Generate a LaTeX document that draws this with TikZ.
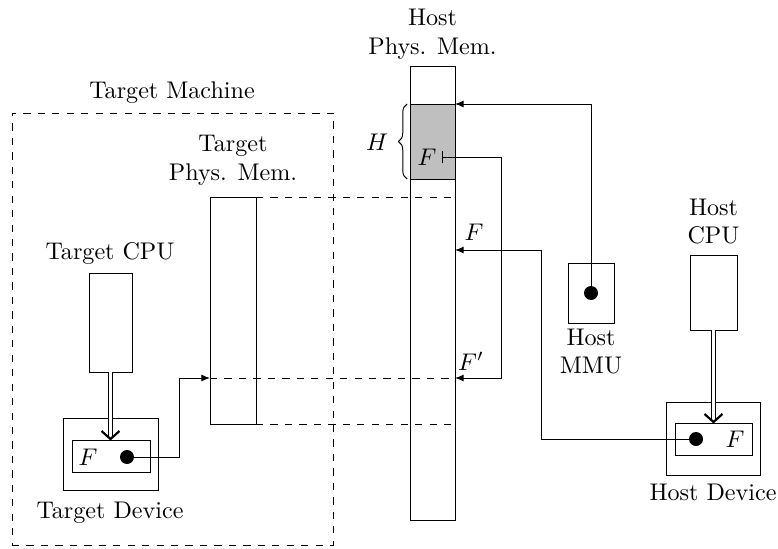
\documentclass[tikz,border=0pt]{standalone}
\usetikzlibrary{arrows.meta,decorations.pathreplacing}
\begin{document}
\begin{tikzpicture}[x=0.415pt,y=-0.415pt,
  box/.style n args={2}{draw, line width=0.4pt, inner sep=0pt, outer sep=0pt,
    minimum width=#1*0.415pt, minimum height=#2*0.415pt},
  dotn/.style={circle, fill=black, inner sep=0pt, outer sep=0pt, minimum size=14*0.415pt},
  lbl/.style={inner sep=0pt, align=center, anchor=south},
  bl/.style={inner sep=0pt, anchor=base},
  dbl/.style={double, double distance=1.4pt, shorten >=1pt},
  chev/.style={line width=0.9pt},
  conn/.style={-{Latex[length=3.6pt,width=2.9pt]}}]
\useasboundingbox (0,0) rectangle (778,549);

% target side
\node[box={321}{432}, dashed] (tm) at (172.5,329) {};
\node[bl] (tmlbl) at (172,98) {Target Machine};
\node[box={46}{227}] (tmem) at (233,310.5) {};
\node[lbl] (tmemlbl) at (233,186) {Target\\Phys.  Mem.};
\node[box={43}{99}] (tcpu) at (110.5,322.5) {};
\node[bl] (tcpulbl) at (110,259) {Target CPU};
\node[box={95}{72}] (tdev) at (110.5,454) {};
\node[box={78}{32}] (tdevin) at (111,456) {};
\node (tF) at (88,457) {$F$};
\node[dotn] (tdot) at (127,457) {};
\node[bl] (tdevlbl) at (110,518) {Target Device};

% host memory
\node[box={45}{75}, fill=gray!50] (hshade) at (432.5,141.5) {};
\node[box={45}{454}] (hmem) at (432.5,293) {};
\node[lbl] (hmemlbl) at (432.5,60) {Host\\Phys.  Mem.};
\node (hF) at (427,157) {$F$};
\node (Hl) at (377,142) {$H$};
\draw[decorate, decoration={brace, amplitude=3.6pt}]
  ([xshift=-1.2pt]hshade.south west) -- ([xshift=-1.2pt]hshade.north west);

% host MMU
\node[box={46}{60}] (hmmu) at (591,293) {};
\node[dotn] (mdot) at (591,293) {};
\node[lbl] (hmmulbl) at (591,375) {Host\\MMU};

% host CPU and device
\node[box={47}{75}] (hcpu) at (713.5,292.5) {};
\node[lbl] (hcpulbl) at (713.5,245) {Host\\CPU};
\node[box={94}{73}] (hdev) at (713,438.5) {};
\node[box={77}{32}] (hdevin) at (713.5,439) {};
\node[dotn] (hdot) at (696,439) {};
\node (hdF) at (735,439) {$F$};
\node[bl] (hdevlbl) at (713,500) {Host Device};

% coordinates
\coordinate (a1) at (179,378);
\coordinate (c1) at (541,250);
\coordinate (fb) at (442,157);
\coordinate (fr) at (501,378);
\coordinate (tdtop) at (tdevin.north -| tcpu.south);
\coordinate (hdtop) at (hdevin.north -| hcpu.south);

% dashed mapping lines
\draw[dashed] (tmem.north east) -- (hmem.east |- tmem.north);
\draw[dashed] (tmem.west |- a1) -- (hmem.east |- a1);
\draw[dashed] (tmem.south east) -- (hmem.east |- tmem.south);

% double connectors with open chevron heads
\draw[dbl] (tcpu.south) -- (tdtop);
\draw[chev] ([shift={(-9,-9)}]tdtop) -- ([yshift=0.4pt]tdtop) -- ([shift={(9,-9)}]tdtop);
\draw[dbl] (hcpu.south) -- (hdtop);
\draw[chev] ([shift={(-9,-9)}]hdtop) -- ([yshift=0.4pt]hdtop) -- ([shift={(9,-9)}]hdtop);

% connectors
\draw[conn] (tdot.center) -| (a1) -- (tmem.west |- a1);
\draw[conn] (mdot.center) |- (hmem.east |- hshade.north);
\draw[conn] (hdot.center) -| (c1) -- (hmem.east |- c1);
\draw[{Bar[width=5pt]}-{Latex[length=3.6pt,width=2.9pt]}] (fb) -| (fr) -- (hmem.east |- fr);

\node (cF) at (474,232) {$F$};
\node (cF2) at (471,361) {$F'$};
\end{tikzpicture}
\end{document}
